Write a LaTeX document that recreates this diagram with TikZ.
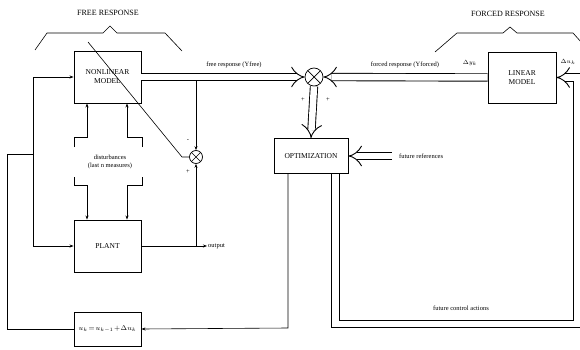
\documentclass[tikz,border=0pt]{standalone}
\usepackage{fontspec}
\setmainfont{Liberation Serif}
\usepackage{amsmath}
\usetikzlibrary{arrows.meta, calc}

\tikzset{
  blk/.style={draw, line width=0.9pt, align=center, inner sep=1pt,
    font=\fontsize{7.5}{9}\selectfont},
  sumnode/.style={draw, circle, inner sep=0pt, line width=0.7pt, minimum size=#1,
    path picture={\draw (path picture bounding box.north west) -- (path picture bounding box.south east)
      (path picture bounding box.north east) -- (path picture bounding box.south west);}},
  lbl/.style={font=\fontsize{6.5}{7.5}\selectfont, inner sep=1pt},
  ttl/.style={font=\fontsize{8}{9}\selectfont},
  dbl/.style={line width=0.9pt, double=white, double distance=6.5pt, -{Implies}},
  sgl/.style={line width=0.6pt},
}

\begin{document}
\begin{tikzpicture}[x=1pt, y=-1pt, >={Stealth[length=4pt, width=3pt]}]
  \useasboundingbox (0,0) rectangle (580,350);

  % blocks
  \node[blk, minimum width=67pt, minimum height=52pt] (nlm) at (107.5,77) {NONLINEAR\\MODEL};
  \node[blk, minimum width=67pt, minimum height=52pt] (plant) at (107.5,246) {PLANT};
  \node[blk, minimum width=68pt, minimum height=51pt] (lin) at (522,77.5) {LINEAR\\MODEL};
  \node[blk, minimum width=74pt, minimum height=35pt] (opt) at (311,156) {OPTIMIZATION};
  \node[blk, minimum width=67pt, minimum height=34pt, font=\fontsize{7}{8}\selectfont] (upd) at (107.5,329)
    {$u_k\!=\!u_{k-1}\!+\!\Delta u_k$};

  \node[sumnode=13pt] (sumf) at (196,157) {};
  \node[sumnode=18pt] (sumo) at (314,77) {};

  % titles and braces
  \node[ttl] (tfree) at (108,13) {FREE RESPONSE};
  \node[ttl] (tforced) at (508,14) {FORCED RESPONSE};
  \draw[sgl] (35,50) -- (47,33) -- (103,33) -- (110,26) -- (117,33) -- (165,33) -- (182,51);
  \draw[sgl] (435,52) -- (457,33) -- (503,33) -- (510,27) -- (517,33) -- (573,33) -- (590,52);

  % free and forced responses
  \draw[dbl] (nlm.east) -- (sumo.west);
  \draw[dbl] (lin.west) -- (sumo.east);
  \draw[dbl] (sumo.south) -- (opt.north);
  \node[lbl] (lfree) at (234,65) {free response (Yfree)};
  \node[lbl] (lforced) at (405,65) {forced response (Yforced)};
  \node[lbl] (ldy) at (470,63) {$\Delta y_k$};
  \node[lbl] (ldu) at (568,62) {$\Delta u_k$};
  \node[lbl] (p1) at (303,100) {+};
  \node[lbl] (p2) at (328,100) {+};

  % future references
  \coordinate (fref) at (392,156);
  \draw[dbl] (fref) -- (opt.east);
  \node[lbl, right] (lfref) at (398,156) {future references};

  % future control actions
  \coordinate (fca) at (577,324);
  \draw[dbl] ($(opt.south east)+(-13,0)$) |- (fca) |- (lin.east);
  \node[lbl] (lfca) at (461,308) {future control actions};

  % control update loop
  \coordinate (cb) at (288,328);
  \coordinate (cl) at (7,154);
  \coordinate (jn) at (33,154);
  \draw[sgl, ->] (opt.south -| cb) -- (cb) -- (upd.east);
  \draw[sgl] (upd.west) -| (cl) -- (jn);
  \draw[sgl, ->] (jn) |- (nlm.west);
  \draw[sgl, ->] (jn) |- (plant.west);

  % plant output and model error
  \coordinate (outp) at (207,246);
  \draw[sgl, ->] (plant.east) -- (outp);
  \node[lbl, right] (lout) at (outp) {output};
  \draw[sgl, ->] (sumf.south |- outp) -- (sumf.south);
  \draw[sgl, ->] (sumf.north |- 0,81) -- (sumf.north);
  \node[lbl] (m1) at (188,141) {-};
  \node[lbl] (m2) at (188,172) {+};
  \coordinate (adk) at (182,157);
  \coordinate (adj) at (88,42);
  \draw[sgl] (sumf.west) -- (adk) -- (adj);

  % disturbances
  \node[lbl, align=center] (dist) at (110,162) {disturbances\\(last n measures)};
  \draw[sgl, ->] (74,147) -- (74,137) -- (87,137) -- (nlm.south -| 87,0);
  \draw[sgl, ->] (142,147) -- (142,137) -- (127,137) -- (nlm.south -| 127,0);
  \draw[sgl, ->] (74,177) -- (74,185) -- (87,185) -- (plant.north -| 87,0);
  \draw[sgl, ->] (142,177) -- (142,185) -- (127,185) -- (plant.north -| 127,0);
\end{tikzpicture}
\end{document}
